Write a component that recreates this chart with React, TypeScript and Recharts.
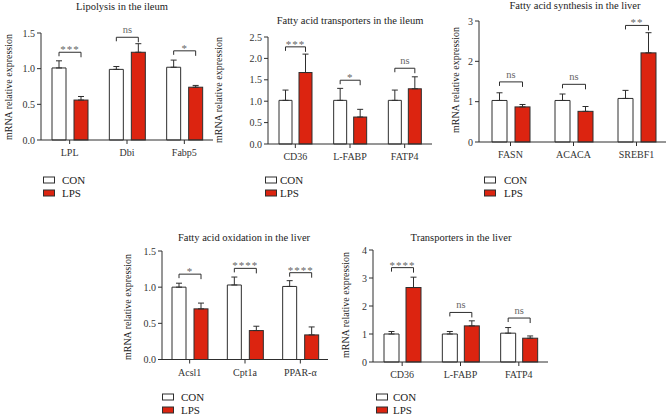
import React from "react";
import { BarChart, Bar, XAxis, YAxis, ErrorBar } from "recharts";

const RED = "#dc2410";
const INK = "#2e2e2e";
const FONT = '"Liberation Serif", "Times New Roman", serif';

// Lipolysis in the ileum
const lipoGenes = ["LPL", "Dbi", "Fabp5"];
const lipoCon = [1.01, 0.99, 1.02];
const lipoConSd = [0.1, 0.04, 0.1];
const lipoLps = [0.56, 1.23, 0.74];
const lipoLpsSd = [0.05, 0.12, 0.025];
const lipoSig = ["***", "ns", "*"];
const lipoBracket = [1.23, 1.44, 1.25];

// Fatty acid transporters in the ileum
const ileTrGenes = ["CD36", "L-FABP", "FATP4"];
const ileTrCon = [1.02, 1.02, 1.02];
const ileTrConSd = [0.24, 0.28, 0.24];
const ileTrLps = [1.67, 0.63, 1.29];
const ileTrLpsSd = [0.43, 0.18, 0.28];
const ileTrSig = ["***", "*", "ns"];
const ileTrBracket = [2.27, 1.49, 1.77];

// Fatty acid synthesis in the liver
const synGenes = ["FASN", "ACACA", "SREBF1"];
const synCon = [1.03, 1.03, 1.08];
const synConSd = [0.19, 0.16, 0.2];
const synLps = [0.87, 0.76, 2.21];
const synLpsSd = [0.06, 0.12, 0.5];
const synSig = ["ns", "ns", "**"];
const synBracket = [1.49, 1.43, 2.89];

// Fatty acid oxidation in the liver
const oxGenes = ["Acsl1", "Cpt1a", "PPAR-α"];
const oxCon = [1.0, 1.03, 1.01];
const oxConSd = [0.055, 0.11, 0.08];
const oxLps = [0.7, 0.4, 0.34];
const oxLpsSd = [0.08, 0.06, 0.11];
const oxSig = ["*", "****", "****"];
const oxBracket = [1.18, 1.26, 1.2];

// Transporters in the liver
const livTrGenes = ["CD36", "L-FABP", "FATP4"];
const livTrCon = [1.0, 1.0, 1.03];
const livTrConSd = [0.09, 0.09, 0.2];
const livTrLps = [2.66, 1.29, 0.85];
const livTrLpsSd = [0.37, 0.18, 0.08];
const livTrSig = ["****", "ns", "ns"];
const livTrBracket = [3.37, 1.77, 1.57];

const ticks15 = [0, 0.5, 1, 1.5];
const ticks25 = [0, 0.5, 1, 1.5, 2, 2.5];
const ticks3 = [0, 1, 2, 3];
const ticks4 = [0, 1, 2, 3, 4];

type Row = {
  gene: string;
  con: number;
  conSd: number[];
  lps: number;
  lpsSd: number[];
  sig: string;
  bracket: number;
};

function rows(
  genes: string[], con: number[], conSd: number[], lps: number[],
  lpsSd: number[], sig: string[], bracket: number[],
): Row[] {
  return genes.map((g, i) => ({
    gene: g,
    con: con[i],
    conSd: [0, conSd[i]],
    lps: lps[i],
    lpsSd: [0, lpsSd[i]],
    sig: sig[i],
    bracket: bracket[i],
  }));
}

// LPS bar + the significance bracket spanning to the CON bar next to it
const lpsShape = (gap: number) => (props: any) => {
  const { x, y, width, height, payload } = props;
  const base = y + height;
  const k = height / payload.lps;
  const by = base - payload.bracket * k;
  const x1 = x - gap - width / 2;
  const x2 = x + width / 2;
  const ns = payload.sig === "ns";
  return (
    <g>
      <rect x={x} y={y} width={width} height={height} fill={RED} stroke={INK} strokeWidth={1} />
      <path d={`M${x1},${by + 4}V${by}H${x2}V${by + 5}`} fill="none" stroke={INK} strokeWidth={1} />
      <text
        x={(x1 + x2) / 2}
        y={ns ? by - 4 : by + 1}
        textAnchor="middle"
        fill="#666"
        fontSize={ns ? 10.5 : 11}
        fontFamily={FONT}
        letterSpacing={ns ? 0 : 1}
      >
        {payload.sig}
      </text>
    </g>
  );
};

type PanelProps = {
  data: Row[];
  box: { left: number; top: number; width: number; height: number };
  plot: { x0: number; x1: number; y0: number; y1: number };
  yMax: number;
  ticks: number[];
  decimals: number;
  barSize: number;
  barGap: number;
};

function Panel(p: PanelProps) {
  const { box, plot } = p;
  const margin = {
    top: plot.y0 - box.top,
    left: 0,
    right: box.left + box.width - plot.x1,
    bottom: 0,
  };
  const yw = plot.x0 - box.left;
  const xh = box.top + box.height - plot.y1;
  const tickStyle = { fill: "#333", fontSize: 10, fontFamily: FONT };
  return (
    <div style={{ position: "absolute", left: box.left, top: box.top }}>
      <BarChart
        width={box.width}
        height={box.height}
        data={p.data}
        margin={margin}
        barSize={p.barSize}
        barGap={p.barGap}
      >
        <XAxis
          dataKey="gene"
          interval={0}
          height={xh}
          tick={tickStyle}
          tickSize={4}
          tickMargin={5}
          axisLine={{ stroke: INK }}
          tickLine={{ stroke: INK }}
        />
        <YAxis
          width={yw}
          domain={[0, p.yMax]}
          ticks={p.ticks}
          interval={0}
          tickFormatter={(v: number) => v.toFixed(p.decimals)}
          tick={tickStyle}
          tickSize={4}
          tickMargin={2}
          axisLine={{ stroke: INK }}
          tickLine={{ stroke: INK }}
        />
        <Bar dataKey="con" fill="#fff" stroke={INK} strokeWidth={1} isAnimationActive={false}>
          <ErrorBar dataKey="conSd" width={3} stroke={INK} strokeWidth={1} direction="y" />
        </Bar>
        <Bar dataKey="lps" fill={RED} shape={lpsShape(p.barGap)} isAnimationActive={false}>
          <ErrorBar dataKey="lpsSd" width={3} stroke={INK} strokeWidth={1} direction="y" />
        </Bar>
      </BarChart>
    </div>
  );
}

// titles, rotated axis titles and legends, drawn on one overlay
const titles = [
  { text: "Lipolysis in the ileum", x: 122, y: 6 },
  { text: "Fatty acid transporters in the ileum", x: 350, y: 20 },
  { text: "Fatty acid synthesis in the liver", x: 575, y: 5 },
  { text: "Fatty acid oxidation in the liver", x: 244, y: 237 },
  { text: "Transporters in the liver", x: 461, y: 237 },
];
const yTitles = [
  { x: 8, y: 87 },
  { x: 218, y: 90 },
  { x: 455, y: 80 },
  { x: 127, y: 307 },
  { x: 345, y: 305 },
];
const legends = [
  { x: 43, tx: 62, y: 180 },
  { x: 265, tx: 280, y: 180 },
  { x: 484, tx: 504, y: 180 },
  { x: 162, tx: 181, y: 397 },
  { x: 376, tx: 393, y: 397 },
];

function Overlay() {
  return (
    <svg
      width={666}
      height={416}
      style={{ position: "absolute", left: 0, top: 0, pointerEvents: "none" }}
      fontFamily={FONT}
    >
      {titles.map((t) => (
        <text key={t.text} x={t.x} y={t.y} textAnchor="middle" dominantBaseline="central" fontSize={10.5} fill="#222">
          {t.text}
        </text>
      ))}
      {yTitles.map((t, i) => (
        <text
          key={i}
          x={t.x}
          y={t.y}
          transform={`rotate(-90 ${t.x} ${t.y})`}
          textAnchor="middle"
          dominantBaseline="central"
          fontSize={10}
          fill="#222"
        >
          mRNA relative expression
        </text>
      ))}
      {legends.map((l, i) => (
        <g key={i}>
          <rect x={l.x + 0.5} y={l.y - 3} width={11} height={6} fill="#fff" stroke={INK} />
          <text x={l.tx} y={l.y} dominantBaseline="central" fontSize={11} fill="#222">CON</text>
          <rect x={l.x + 0.5} y={l.y + 10} width={11} height={6} fill={RED} stroke={INK} />
          <text x={l.tx} y={l.y + 13} dominantBaseline="central" fontSize={11} fill="#222">LPS</text>
        </g>
      ))}
    </svg>
  );
}

export default function App() {
  return (
    <div
      style={{
        position: "absolute", left: 0, top: 0, width: 666, height: 416,
        background: "#fff", overflow: "hidden", fontFamily: FONT,
      }}
    >
      <Panel
        data={rows(lipoGenes, lipoCon, lipoConSd, lipoLps, lipoLpsSd, lipoSig, lipoBracket)}
        box={{ left: 0, top: 0, width: 215, height: 165 }}
        plot={{ x0: 41, x1: 213, y0: 33, y1: 140 }}
        yMax={1.5} ticks={ticks15} decimals={1} barSize={14} barGap={8}
      />
      <Panel
        data={rows(ileTrGenes, ileTrCon, ileTrConSd, ileTrLps, ileTrLpsSd, ileTrSig, ileTrBracket)}
        box={{ left: 222, top: 0, width: 212, height: 165 }}
        plot={{ x0: 268, x1: 432, y0: 37, y1: 144 }}
        yMax={2.5} ticks={ticks25} decimals={1} barSize={13} barGap={7}
      />
      <Panel
        data={rows(synGenes, synCon, synConSd, synLps, synLpsSd, synSig, synBracket)}
        box={{ left: 440, top: 0, width: 230, height: 165 }}
        plot={{ x0: 479, x1: 668, y0: 21, y1: 142 }}
        yMax={3} ticks={ticks3} decimals={0} barSize={15} barGap={8}
      />
      <Panel
        data={rows(oxGenes, oxCon, oxConSd, oxLps, oxLpsSd, oxSig, oxBracket)}
        box={{ left: 130, top: 225, width: 200, height: 155 }}
        plot={{ x0: 162, x1: 328, y0: 251, y1: 359.5 }}
        yMax={1.5} ticks={ticks15} decimals={1} barSize={14} barGap={8}
      />
      <Panel
        data={rows(livTrGenes, livTrCon, livTrConSd, livTrLps, livTrLpsSd, livTrSig, livTrBracket)}
        box={{ left: 350, top: 225, width: 200, height: 160 }}
        plot={{ x0: 373, x1: 548, y0: 250, y1: 362 }}
        yMax={4} ticks={ticks4} decimals={0} barSize={15} barGap={7}
      />
      <Overlay />
    </div>
  );
}
